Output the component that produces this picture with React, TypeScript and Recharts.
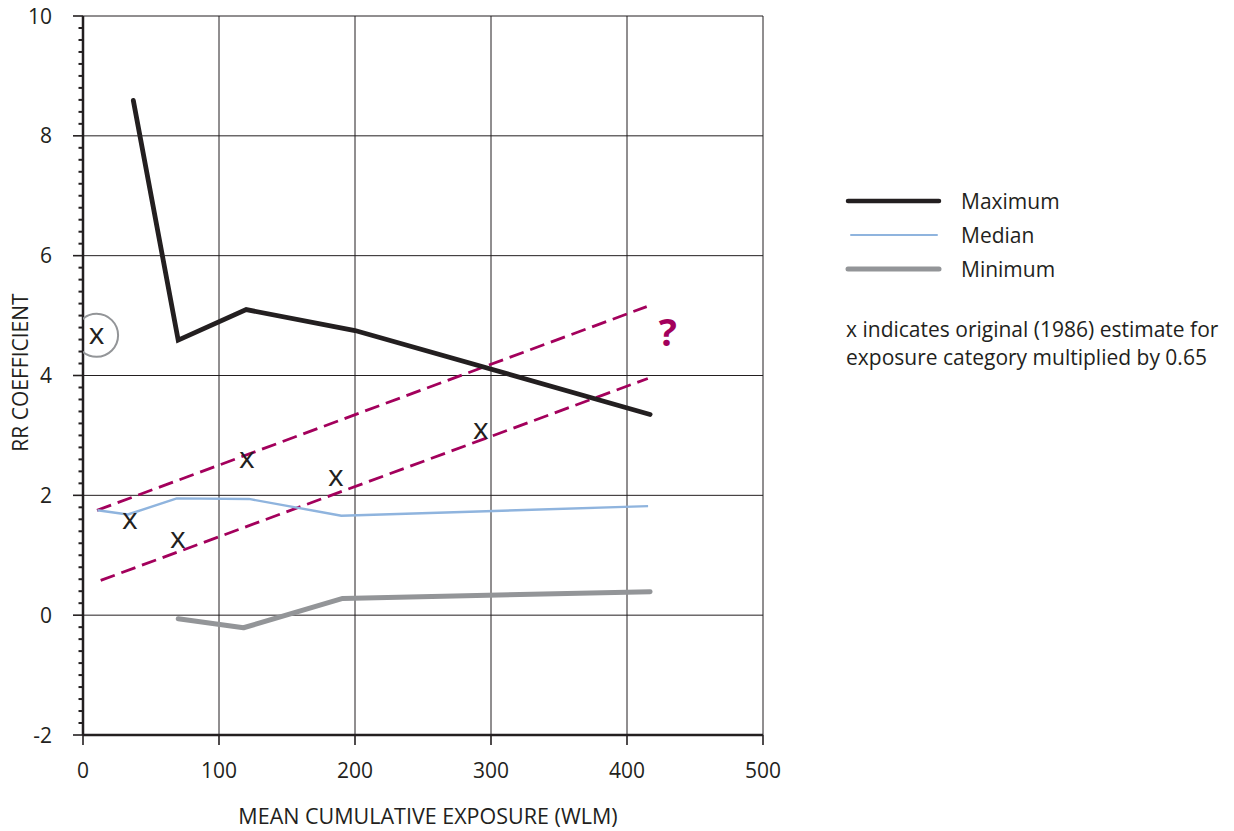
import React from 'react';
import { LineChart, Line, XAxis, YAxis, ReferenceLine, Scatter, Legend } from 'recharts';

const FONT = '"Open Sans", "Noto Sans", sans-serif';
const INK = '#231f20';
const MAGENTA = '#a3005c';

const maximumSeries = [
  { x: 37, y: 8.59 },
  { x: 70, y: 4.59 },
  { x: 120, y: 5.1 },
  { x: 200, y: 4.75 },
  { x: 417, y: 3.35 },
];
const medianSeries = [
  { x: 10.6, y: 1.75 },
  { x: 33, y: 1.68 },
  { x: 69, y: 1.95 },
  { x: 122, y: 1.94 },
  { x: 190, y: 1.66 },
  { x: 415.5, y: 1.82 },
];
const minimumSeries = [
  { x: 70, y: -0.06 },
  { x: 118, y: -0.21 },
  { x: 191, y: 0.28 },
  { x: 417, y: 0.39 },
];
const upperTrend = [
  { x: 10.3, y: 1.75 },
  { x: 414.5, y: 5.15 },
];
const lowerTrend = [
  { x: 13, y: 0.58 },
  { x: 415.3, y: 3.95 },
];
const originalEstimates = [
  { x: 34.4, y: 1.58 },
  { x: 69.7, y: 1.26 },
  { x: 120.4, y: 2.6 },
  { x: 185.9, y: 2.3 },
  { x: 292.6, y: 3.08 },
];
const circledEstimate = [{ x: 10, y: 4.67 }];
const questionMark = [{ x: 430, y: 4.72 }];

const xTicks = [0, 100, 200, 300, 400, 500];
const xGrid = [100, 200, 300, 400, 500];
const yMajor = [-2, 0, 2, 4, 6, 8, 10];
const yGrid = [0, 2, 4, 6, 8, 10];
const yMinorStep = 0.2;
const yTicks: number[] = [];
for (let i = 0; i <= 60; i++) yTicks.push(Math.round((-2 + i * yMinorStep) * 10) / 10);

const legendItems = [
  { name: 'Maximum', color: INK, width: 4.5 },
  { name: 'Median', color: '#8fb4de', width: 2 },
  { name: 'Minimum', color: '#939598', width: 5 },
];
const noteLines = ['x indicates original (1986) estimate for', 'exposure category multiplied by 0.65'];

const YTick = (props: any) => {
  const { x, y, payload } = props;
  const v = payload.value;
  const major = yMajor.some((m) => Math.abs(m - v) < 1e-6);
  return (
    <g>
      <line x1={x - (major ? 10 : 4.5)} x2={x} y1={y} y2={y} stroke={INK} strokeWidth={major ? 1.6 : 2} />
      {major && (
        <text x={x - 31} y={y + 7.5} textAnchor="end" fontFamily={FONT} fontSize={21} fill={INK}>
          {Math.round(v)}
        </text>
      )}
    </g>
  );
};

const XTick = (props: any) => {
  const { x, y, payload } = props;
  return (
    <g>
      <line x1={x} x2={x} y1={y} y2={y + 10} stroke={INK} strokeWidth={1.6} />
      <text x={x} y={y + 43} textAnchor="middle" fontFamily={FONT} fontSize={21} fill={INK}>
        {payload.value}
      </text>
    </g>
  );
};

const XMark = (props: any) => {
  const { cx, cy } = props;
  return (
    <text x={cx} y={cy + 8.5} textAnchor="middle" fontFamily={FONT} fontSize={30} fill={INK}>
      x
    </text>
  );
};

const CircledMark = (props: any) => {
  const { cx, cy } = props;
  return (
    <g>
      <circle cx={cx} cy={cy} r={21.5} fill="none" stroke="#939598" strokeWidth={2} />
      <text x={cx} y={cy + 8.5} textAnchor="middle" fontFamily={FONT} fontSize={30} fill={INK}>
        x
      </text>
    </g>
  );
};

const QMark = (props: any) => {
  const { cx, cy } = props;
  return (
    <text x={cx} y={cy + 14} textAnchor="middle" fontFamily={FONT} fontWeight="bold" fontSize={38} fill={MAGENTA}>
      ?
    </text>
  );
};

const LegendContent = () => (
  <svg width={1234} height={831} style={{ position: 'absolute', left: 0, top: 0, overflow: 'visible' }}>
    {legendItems.map((it, i) => (
      <g key={it.name}>
        <line
          x1={it.width < 3 ? 851 : 848}
          x2={it.width < 3 ? 937 : 939}
          y1={201 + i * 34}
          y2={201 + i * 34}
          stroke={it.color}
          strokeWidth={it.width}
          strokeLinecap="round"
        />
        <text x={961} y={201 + i * 34 + 7.5} fontFamily={FONT} fontSize={21} fill={INK}>
          {it.name}
        </text>
      </g>
    ))}
    {noteLines.map((t, i) => (
      <text key={t} x={846} y={337 + i * 28} fontFamily={FONT} fontSize={21} fill={INK}>
        {t}
      </text>
    ))}
  </svg>
);

export default function App() {
  return (
    <div style={{ position: 'absolute', left: 0, top: 0, width: 1234, height: 831, background: '#fff' }}>
      <LineChart width={1234} height={831} margin={{ top: 16, right: 471, bottom: 66, left: 23 }}>
        <XAxis
          type="number"
          dataKey="x"
          domain={[0, 500]}
          ticks={xTicks}
          interval={0}
          tickSize={0}
          tickMargin={0}
          tickLine={false}
          tick={<XTick />}
          axisLine={{ stroke: INK, strokeWidth: 2.5 }}
          height={30}
          allowDataOverflow
          label={{
            content: () => (
              <text x={428} y={824} textAnchor="middle" fontFamily={FONT} fontSize={21.5} fill={INK}>
                MEAN CUMULATIVE EXPOSURE (WLM)
              </text>
            ),
          }}
        />
        <YAxis
          type="number"
          dataKey="y"
          domain={[-2, 10]}
          ticks={yTicks}
          interval={0}
          tickSize={0}
          tickMargin={0}
          tickLine={false}
          tick={<YTick />}
          axisLine={{ stroke: INK, strokeWidth: 2.5 }}
          width={60}
          allowDataOverflow
          label={{
            content: (p: any) => {
              const vb = p.viewBox || { y: 16, height: 720 };
              const cy = vb.y + vb.height / 2 - 3;
              return (
                <text
                  x={20}
                  y={cy}
                  transform={`rotate(-90 20 ${cy})`}
                  textAnchor="middle"
                  dominantBaseline="central"
                  fontFamily={FONT}
                  fontSize={21}
                  fill={INK}
                >
                  RR COEFFICIENT
                </text>
              );
            },
          }}
        />
        {yGrid.map((v) => (
          <ReferenceLine key={'h' + v} y={v} stroke={INK} strokeWidth={1} />
        ))}
        {xGrid.map((v) => (
          <ReferenceLine key={'v' + v} x={v} stroke={INK} strokeWidth={1} />
        ))}
        <Line data={upperTrend} dataKey="y" stroke={MAGENTA} strokeWidth={2.8} strokeDasharray="15 7" dot={false} isAnimationActive={false} />
        <Line data={lowerTrend} dataKey="y" stroke={MAGENTA} strokeWidth={2.8} strokeDasharray="15 7" dot={false} isAnimationActive={false} />
        <Line data={medianSeries} dataKey="y" stroke="#8fb4de" strokeWidth={2.4} dot={false} isAnimationActive={false} strokeLinejoin="round" />
        <Line data={minimumSeries} dataKey="y" stroke="#939598" strokeWidth={5} dot={false} isAnimationActive={false} strokeLinejoin="round" strokeLinecap="round" />
        <Line data={maximumSeries} dataKey="y" stroke={INK} strokeWidth={4.8} dot={false} isAnimationActive={false} strokeLinejoin="miter" strokeLinecap="round" />
        <Scatter data={originalEstimates} dataKey="y" shape={<XMark />} isAnimationActive={false} />
        <Scatter data={circledEstimate} dataKey="y" shape={<CircledMark />} isAnimationActive={false} />
        <Scatter data={questionMark} dataKey="y" shape={<QMark />} isAnimationActive={false} />
        <Legend layout="vertical" align="center" verticalAlign="middle" content={<LegendContent />} wrapperStyle={{ left: 0, top: 0, width: 1234, height: 831, pointerEvents: 'none' }} />
      </LineChart>
    </div>
  );
}
